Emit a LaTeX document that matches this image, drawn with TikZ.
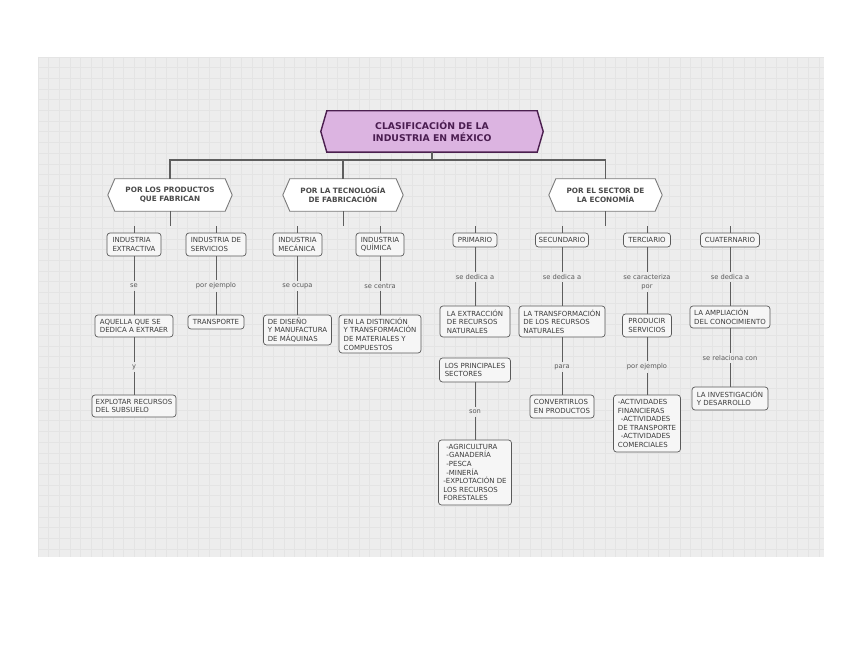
\documentclass[tikz,border=0pt]{standalone}
\usepackage{fontspec}
\setmainfont{DejaVu Sans}
\pgfdeclarelayer{back}
\pgfsetlayers{back,main}
\definecolor{bgc}{HTML}{EDEDED}
\definecolor{gridc}{HTML}{E4E4E4}
\definecolor{titlefill}{HTML}{DCB4E1}
\definecolor{titledraw}{HTML}{4B1F4F}
\definecolor{titletext}{HTML}{4A1D50}
\definecolor{hexdraw}{HTML}{7A7A7A}
\definecolor{hextext}{HTML}{4A4A4A}
\definecolor{boxdraw}{HTML}{5A5A5A}
\definecolor{boxfill}{HTML}{F6F6F6}
\definecolor{boxtext}{HTML}{3C3C3C}
\definecolor{labtext}{HTML}{5A5A5A}
\definecolor{linec}{HTML}{5E5E5E}
\tikzset{
 titlenode/.style={minimum width=222pt, minimum height=41pt, inner sep=0pt, align=center, text=titletext, font=\fontsize{9.3}{11.7}\selectfont\bfseries},
 hexnode/.style={minimum height=32pt, inner sep=0pt, align=center, text=hextext, font=\fontsize{7.3}{9}\selectfont\bfseries},
 boxnode/.style={draw=boxdraw, fill=boxfill, rounded corners=3pt, line width=0.7pt, inner sep=0pt, align=left, text=boxtext, font=\fontsize{7}{8.6}\selectfont},
 labnode/.style={inner sep=2.5pt, text=labtext, font=\fontsize{6.7}{9}\selectfont, align=center},
 mainline/.style={draw=linec, line width=1.3pt},
 subline/.style={draw=linec, line width=0.8pt},
}
\newcommand{\hexframe}[3]{%
 \begin{pgfonlayer}{back}
 \path[#3] (#1.west) -- ([xshift=#2]#1.north west) -- ([xshift=-#2]#1.north east) -- (#1.east) -- ([xshift=-#2]#1.south east) -- ([xshift=#2]#1.south west) -- cycle;
 \end{pgfonlayer}}
\begin{document}
\begin{tikzpicture}[x=1pt,y=-1pt]
\useasboundingbox (0,0) rectangle (848,655);
\begin{pgfonlayer}{back}
\fill[white] (0,0) rectangle (848,655);
\fill[bgc] (38,57) rectangle (824,557);
\foreach \i in {0,...,73} \draw[gridc, line width=0.8pt] ({38+\i*10.7},57) -- ({38+\i*10.7},557);
\foreach \j in {0,...,46} \draw[gridc, line width=0.8pt] (38,{57+\j*10.7}) -- (824,{57+\j*10.7});
\end{pgfonlayer}

% title
\node[titlenode] (title) at (432,131.5) {CLASIFICACIÓN DE LA\\INDUSTRIA EN MÉXICO};
\hexframe{title}{6pt}{fill=titlefill, draw=titledraw, line width=1.4pt}

% level 2
\node[hexnode, minimum width=124pt] (prod) at (170,195) {POR LOS PRODUCTOS\\QUE FABRICAN};
\node[hexnode, minimum width=120pt] (tec) at (343,195) {POR LA TECNOLOGÍA\\DE FABRICACIÓN};
\node[hexnode, minimum width=113pt] (sect) at (605.5,195) {POR EL SECTOR DE\\LA ECONOMÍA};
\hexframe{prod}{7pt}{fill=white, draw=hexdraw, line width=0.9pt}
\hexframe{tec}{7pt}{fill=white, draw=hexdraw, line width=0.9pt}
\hexframe{sect}{7pt}{fill=white, draw=hexdraw, line width=0.9pt}

\coordinate (bus) at (432,160);
\draw[mainline] (title.south) -- (bus);
\draw[mainline] (bus) -| (prod.north);
\draw[mainline] (bus) -| (tec.north);
\draw[mainline] (bus) -| (sect.north);

% level 3
\node[boxnode, minimum width=54pt, minimum height=23pt] (ext) at (134,244.5) {INDUSTRIA\\EXTRACTIVA};
\node[boxnode, minimum width=60pt, minimum height=23pt] (ser) at (216,244.5) {INDUSTRIA DE\\SERVICIOS};
\node[boxnode, minimum width=49pt, minimum height=23pt] (mec) at (297.5,244.5) {INDUSTRIA\\MECÁNICA};
\node[boxnode, minimum width=48pt, minimum height=23pt] (qui) at (380,244.5) {INDUSTRIA\\QUÍMICA};
\node[boxnode, minimum width=44pt, minimum height=14pt] (pri) at (475,240) {PRIMARIO};
\node[boxnode, minimum width=53pt, minimum height=14pt] (secu) at (562,240) {SECUNDARIO};
\node[boxnode, minimum width=47pt, minimum height=14pt] (ter) at (647,240) {TERCIARIO};
\node[boxnode, minimum width=59pt, minimum height=14pt] (cua) at (730,240) {CUATERNARIO};

% stubs
\coordinate (prodS) at (170,226);
\coordinate (tecS) at (343,226);
\coordinate (sectS) at (605.5,226);
\draw[subline] (prod.south) -- (prodS);
\draw[subline] (tec.south) -- (tecS);
\draw[subline] (sect.south) -- (sectS);
\coordinate (extT) at (134,226);
\coordinate (serT) at (216,226);
\coordinate (mecT) at (297.5,226);
\coordinate (quiT) at (380,226);
\coordinate (priT) at (475,226);
\coordinate (secuT) at (562,226);
\coordinate (terT) at (647,226);
\coordinate (cuaT) at (730,226);
\draw[subline] (extT) -- (ext.north);
\draw[subline] (serT) -- (ser.north);
\draw[subline] (mecT) -- (mec.north);
\draw[subline] (quiT) -- (qui.north);
\draw[subline] (priT) -- (pri.north);
\draw[subline] (secuT) -- (secu.north);
\draw[subline] (terT) -- (ter.north);
\draw[subline] (cuaT) -- (cua.north);

% labels
\node[labnode] (l1) at (134,286) {se};
\node[labnode] (l2) at (216,286) {por ejemplo};
\node[labnode] (l3) at (297.5,286) {se ocupa};
\node[labnode] (l4) at (380,286) {se centra};
\node[labnode] (l5) at (475,277) {se dedica a};
\node[labnode] (l6) at (562,277) {se dedica a};
\node[labnode] (l7) at (647,282) {se caracteriza\\por};
\node[labnode] (l8) at (730,277) {se dedica a};
\node[labnode] (l9) at (134,367) {y};
\node[labnode] (l10) at (475,412) {son};
\node[labnode] (l11) at (562,367) {para};
\node[labnode] (l12) at (647,367) {por ejemplo};
\node[labnode] (l13) at (730,358) {se relaciona con};

% level 4
\node[boxnode, minimum width=78pt, minimum height=22pt] (aq) at (134,326) {AQUELLA QUE SE\\DEDICA A EXTRAER};
\node[boxnode, minimum width=56pt, minimum height=14pt] (tra) at (216,322) {TRANSPORTE};
\node[boxnode, minimum width=68pt, minimum height=30pt] (dis) at (297.5,330) {DE DISEÑO\\Y MANUFACTURA\\DE MÁQUINAS};
\node[boxnode, minimum width=82pt, minimum height=38pt] (dist) at (380,334) {EN LA DISTINCIÓN\\Y TRANSFORMACIÓN\\DE MATERIALES Y\\COMPUESTOS};
\node[boxnode, minimum width=84pt, minimum height=22pt] (exp) at (134,406) {EXPLOTAR RECURSOS\\DEL SUBSUELO};
\node[boxnode, minimum width=70pt, minimum height=31pt] (lex) at (475,321.5) {LA EXTRACCIÓN\\DE RECURSOS\\NATURALES};
\node[boxnode, minimum width=86pt, minimum height=31pt] (ltr) at (562,321.5) {LA TRANSFORMACIÓN\\DE LOS RECURSOS\\NATURALES};
\node[boxnode, minimum width=49pt, minimum height=23pt] (prs) at (647,325.5) {PRODUCIR\\SERVICIOS};
\node[boxnode, minimum width=80pt, minimum height=22pt] (amp) at (730,317) {LA AMPLIACIÓN\\DEL CONOCIMIENTO};
\node[boxnode, minimum width=71pt, minimum height=24pt] (lps) at (475,370) {LOS PRINCIPALES\\SECTORES};
\node[boxnode, minimum width=64pt, minimum height=23pt] (conv) at (562,406.5) {CONVERTIRLOS\\EN PRODUCTOS};
\node[boxnode, minimum width=67pt, minimum height=57pt] (act) at (647,423.5) {-ACTIVIDADES\\FINANCIERAS\\\hspace{3pt}-ACTIVIDADES\\DE TRANSPORTE\\\hspace{3pt}-ACTIVIDADES\\COMERCIALES};
\node[boxnode, minimum width=76pt, minimum height=23pt] (inv) at (730,398.5) {LA INVESTIGACIÓN\\Y DESARROLLO};
\node[boxnode, minimum width=73pt, minimum height=65pt] (agr) at (475,472.5) {\hspace{3pt}-AGRICULTURA\\\hspace{3pt}-GANADERÍA\\\hspace{3pt}-PESCA\\\hspace{3pt}-MINERÍA\\-EXPLOTACIÓN DE\\LOS RECURSOS\\FORESTALES};

% connectors with labels
\draw[subline] (ext.south) -- (l1) -- (aq.north);
\draw[subline] (ser.south) -- (l2) -- (tra.north);
\draw[subline] (mec.south) -- (l3) -- (dis.north);
\draw[subline] (qui.south) -- (l4) -- (dist.north);
\draw[subline] (pri.south) -- (l5) -- (lex.north);
\draw[subline] (secu.south) -- (l6) -- (ltr.north);
\draw[subline] (ter.south) -- (l7) -- (prs.north);
\draw[subline] (cua.south) -- (l8) -- (amp.north);
\draw[subline] (aq.south) -- (l9) -- (exp.north);
\draw[subline] (lps.south) -- (l10) -- (agr.north);
\draw[subline] (ltr.south) -- (l11) -- (conv.north);
\draw[subline] (prs.south) -- (l12) -- (act.north);
\draw[subline] (amp.south) -- (l13) -- (inv.north);
\end{tikzpicture}
\end{document}
